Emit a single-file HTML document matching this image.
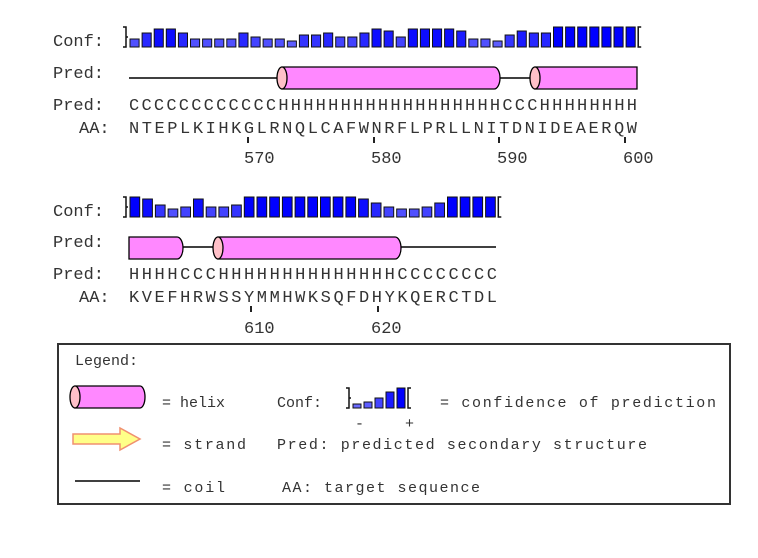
<!DOCTYPE html>
<html><head><meta charset="utf-8"><style>
html,body{margin:0;padding:0;background:#fff;width:758px;height:558px;overflow:hidden}
text{font-family:"Liberation Mono",monospace;fill:#333}
</style></head><body>
<svg id="s" width="758" height="558" xmlns="http://www.w3.org/2000/svg">
<g font-size="17">
<text x="53" y="46">Conf:</text>
<text x="53" y="78">Pred:</text>
<text x="53" y="110">Pred:</text>
<text x="129" y="110" textLength="508" lengthAdjust="spacing">CCCCCCCCCCCCHHHHHHHHHHHHHHHHHHCCCHHHHHHHH</text>
<text x="79" y="133">AA:</text>
<text x="129" y="133" textLength="508" lengthAdjust="spacing">NTEPLKIHKGLRNQLCAFWNRFLPRLLNITDNIDEAERQW</text>
<text x="244" y="163">570</text><text x="371" y="163">580</text><text x="497" y="163">590</text><text x="623" y="163">600</text>

<text x="53" y="216">Conf:</text>
<text x="53" y="247">Pred:</text>
<text x="53" y="279">Pred:</text>
<text x="129" y="279" textLength="368" lengthAdjust="spacing">HHHHCCCHHHHHHHHHHHHHHCCCCCCCC</text>
<text x="79" y="302">AA:</text>
<text x="129" y="302" textLength="368" lengthAdjust="spacing">KVEFHRWSSYMMHWKSQFDHYKQERCTDL</text>
<text x="244" y="333">610</text><text x="371" y="333">620</text>
</g>
<g stroke="#222" stroke-width="2">
<line x1="248" y1="137" x2="248" y2="143"/><line x1="374" y1="137" x2="374" y2="143"/>
<line x1="499" y1="137" x2="499" y2="143"/><line x1="625" y1="137" x2="625" y2="143"/>
<line x1="251" y1="306" x2="251" y2="312"/><line x1="378" y1="306" x2="378" y2="312"/>
</g>
<g id="bars"></g>
<g stroke="#000" stroke-width="1.5">
<line x1="129" y1="78" x2="280" y2="78"/>
<line x1="497" y1="78" x2="532" y2="78"/>
<line x1="180" y1="247" x2="218" y2="247"/>
<line x1="396" y1="247" x2="496" y2="247"/>
</g>
<path d="M282,67 H494 A6,11 0 0 1 494,89 H282 Z" fill="#ff88ff" stroke="#000" stroke-width="1.3"/>
<ellipse cx="282" cy="78" rx="5" ry="11" fill="#ffc0c8" stroke="#000" stroke-width="1.3"/>
<path d="M535,67 H637 V89 H535 Z" fill="#ff88ff" stroke="#000" stroke-width="1.3"/>
<ellipse cx="535" cy="78" rx="5" ry="11" fill="#ffc0c8" stroke="#000" stroke-width="1.3"/>
<path d="M129,237 H177 A6,11 0 0 1 177,259 H129 Z" fill="#ff88ff" stroke="#000" stroke-width="1.3"/>
<path d="M218,237 H395 A6,11 0 0 1 395,259 H218 Z" fill="#ff88ff" stroke="#000" stroke-width="1.3"/>
<ellipse cx="218" cy="248" rx="5" ry="11" fill="#ffc0c8" stroke="#000" stroke-width="1.3"/>
<rect x="58" y="344" width="672" height="160" fill="none" stroke="#333" stroke-width="2"/>
<g font-size="15">
<text x="75" y="365">Legend:</text>
<text x="162" y="407">= helix</text>
<text x="277" y="407">Conf:</text>
<text x="440" y="407" textLength="276" lengthAdjust="spacing">= confidence of prediction</text>
<text x="355" y="428">-</text><text x="405" y="428">+</text>
<text x="162" y="449" textLength="84" lengthAdjust="spacing">= strand</text>
<text x="277" y="449" textLength="370" lengthAdjust="spacing">Pred: predicted secondary structure</text>
<text x="162" y="492" textLength="63" lengthAdjust="spacing">= coil</text>
<text x="282" y="492" textLength="198" lengthAdjust="spacing">AA: target sequence</text>
</g>
<path d="M75,386 H140 A5,11 0 0 1 140,408 H75 Z" fill="#ff88ff" stroke="#000" stroke-width="1.3"/>
<ellipse cx="75" cy="397" rx="5" ry="11" fill="#ffc0c8" stroke="#000" stroke-width="1.3"/>
<path d="M73,434 H120 V428 L140,439 L120,450 V444 H73 Z" fill="#ffff88" stroke="#f09070" stroke-width="1.5"/>
<line x1="75" y1="481" x2="140" y2="481" stroke="#000" stroke-width="1.5"/>
<g id="lbars"></g>
</svg>
<script>
var NS="http://www.w3.org/2000/svg";
function col(h){var t=h/9;var r=Math.round(120*(1-t)),g=Math.round(120*(1-t));return "rgb("+r+","+g+",255)";}
function bars(parent,x0,base,w,arr,maxh){
  var g=document.getElementById(parent);
  arr.forEach(function(h,i){
    var hh=Math.max(4,maxh*(h+1)/10);
    var r=document.createElementNS(NS,"rect");
    r.setAttribute("x",x0+i*w+1);r.setAttribute("y",base-hh);
    r.setAttribute("width",w-3);r.setAttribute("height",hh);
    r.setAttribute("fill",col(h));r.setAttribute("stroke","#111");r.setAttribute("stroke-width","1");
    g.appendChild(r);
  });
  var br=document.createElementNS(NS,"path");
  var xe=x0+arr.length*w;
  br.setAttribute("d","M"+(x0-6)+","+(base-20)+" h3 v20 h-3 M"+(x0-3)+","+(base-10)+" h2 M"+(xe+4)+","+(base-20)+" h-3 v20 h3");
  br.setAttribute("stroke","#111");br.setAttribute("fill","none");br.setAttribute("stroke-width","1.5");
  g.appendChild(br);
}
bars("bars",129,47,12.1,[3,6,8,8,6,3,3,3,3,6,4,3,3,2,5,5,6,4,4,6,8,7,4,8,8,8,8,7,3,3,2,5,7,6,6,9,9,9,9,9,9,9],20);
bars("bars",129,217,12.7,[9,8,5,3,4,8,4,4,5,9,9,9,9,9,9,9,9,9,8,6,4,3,3,4,6,9,9,9,9],20);
bars("lbars",352,408,11,[1,2,4,7,9],20);
</script>
</body></html>
